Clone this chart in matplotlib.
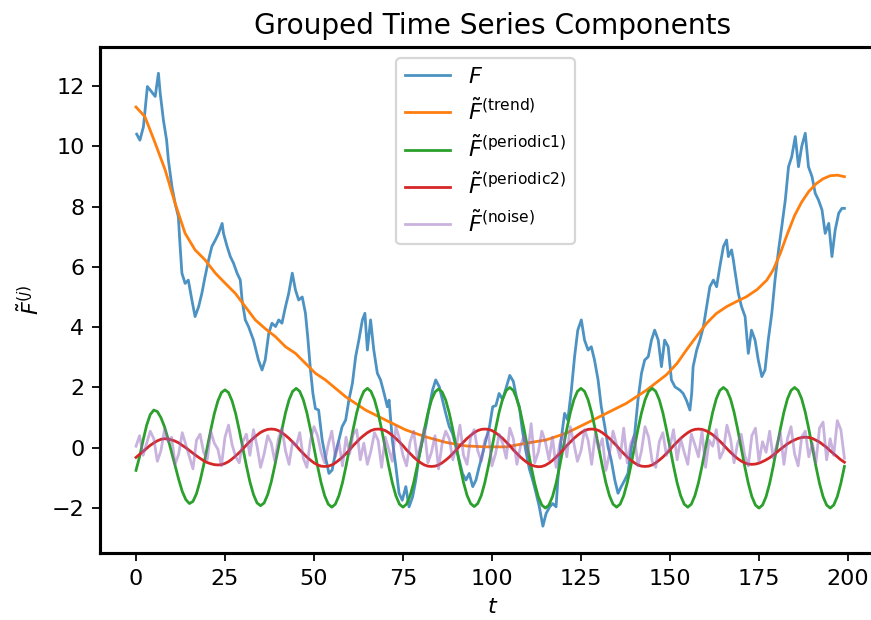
import numpy as np
import matplotlib
matplotlib.use("Agg")
import matplotlib.pyplot as plt

# ---------------- data ----------------
F_t = [0.2, 1.1, 2.1, 3.2, 4.4, 5.4, 6.3, 6.8, 7.7, 8.6, 9.1, 10.1, 11.0, 11.9, 12.4, 12.9,
       13.8, 14.7, 15.7, 16.6, 17.6, 18.5, 19.4, 20.4, 21.3, 22.3, 23.2, 24.2, 24.6, 25.6,
       26.5, 27.4, 28.4, 29.3, 29.8, 30.7, 31.6, 33.0, 34.4, 35.4, 36.3, 37.3, 38.2, 39.2,
       40.1, 41.0, 42.0, 42.9, 43.9, 44.8, 45.7, 46.7, 47.6, 48.3, 49.0, 49.7, 50.4, 51.3,
       52.3, 53.2, 54.2, 55.1, 56.0, 57.0, 57.9, 58.9, 59.8, 60.8, 61.7, 62.6, 63.6, 64.3,
       65.0, 65.9, 66.8, 67.8, 68.7, 69.7, 70.6, 71.1, 72.0, 73.0, 73.9, 74.8, 75.8, 76.7,
       77.7, 78.6, 79.5, 80.5, 81.4, 82.4, 83.3, 84.2, 85.2, 86.1, 87.0, 88.0, 88.9, 89.9,
       90.8, 91.7, 92.7, 93.6, 94.6, 95.5, 96.4, 97.4, 98.3, 99.3, 100.2, 101.1, 102.0, 103.0,
       104.0, 105.0, 106.0, 107.0, 107.7, 108.5, 109.5, 110.5, 111.5, 112.4, 113.3, 114.3,
       115.2, 116.2, 117.1, 118.0, 118.5, 119.4, 120.4, 121.3, 122.3, 123.2, 124.1, 125.1,
       126.0, 127.0, 127.9, 128.8, 129.8, 130.7, 131.7, 132.6, 133.5, 134.5, 135.4, 136.3,
       137.3, 138.2, 139.2, 140.1, 141.0, 142.0, 142.9, 143.9, 144.8, 145.7, 146.7, 147.6,
       148.5, 149.5, 150.4, 151.4, 152.8, 153.7, 154.6, 155.6, 156.1, 156.5, 157.5, 158.4,
       159.4, 160.3, 161.2, 162.2, 163.1, 164.0, 165.0, 165.9, 166.4, 167.3, 167.8, 168.2,
       169.2, 170.1, 171.1, 171.5, 172.0, 172.9, 173.9, 174.8, 175.8, 176.7, 177.6, 178.6,
       179.5, 180.5, 181.4, 182.4, 183.3, 184.2, 185.2, 186.1, 187.0, 188.0, 188.9, 189.9,
       190.8, 191.7, 192.7, 193.6, 194.6, 195.5, 196.4, 197.4, 198.3, 199.0]
F_v = [10.4, 10.2, 10.65, 11.98, 11.8, 11.65, 12.42, 11.76, 10.87, 10.2, 9.54, 8.66, 8.1, 7.66, 6.67, 5.79,
       5.45, 5.56, 4.9, 4.35, 4.68, 5.12, 5.67, 6.23, 6.67, 6.89, 7.11, 7.44, 7.1, 6.67,
       6.34, 6.12, 5.79, 5.56, 4.9, 4.24, 4.02, 3.57, 2.91, 2.58, 2.91, 3.8, 4.13, 4.02,
       4.24, 4.13, 4.68, 5.12, 5.79, 5.23, 4.9, 5.0, 4.46, 3.6, 2.6, 1.8, 1.3, 1.25,
       0.26, -0.3, -0.85, -0.74, -0.19, 0.26, 0.7, 0.92, 1.58, 2.14, 3.02, 3.57, 4.24, 4.46,
       3.24, 4.24, 3.24, 2.47, 2.25, 1.8, 1.36, 1.58, 0.26, -0.63, -1.51, -1.74, -1.29, -1.96,
       -1.63, -1.07, -0.3, 0.26, 0.7, 1.36, 1.91, 2.25, 2.02, 1.58, 1.14, 0.7, 0.48, 0.03,
       -0.41, -0.85, -1.07, -0.85, -1.29, -1.07, -0.63, -0.19, 0.26, 0.7, 1.36, 1.4, 1.8, 1.6,
       2.0, 2.4, 2.2, 1.6, 1.36, 0.6, -0.1, -0.7, -1.1, -1.51, -1.96, -2.6,
       -2.18, -1.96, -1.85, -1.96, -1.07, 0.26, 1.14, 0.92, 1.91, 3.02, 3.9, 4.24,
       3.57, 3.24, 3.35, 2.91, 2.25, 1.36, 0.7, 0.03, -0.41, -1.07, -1.51, -1.29,
       -1.07, -0.85, 0.03, 0.48, 1.58, 2.47, 2.91, 3.02, 3.57, 3.9, 3.57, 2.69,
       3.57, 3.35, 2.25, 2.02, 1.91, 1.8, 1.58, 1.25, 1.8, 2.69, 3.24, 3.57,
       4.02, 4.68, 5.34, 5.56, 5.34, 6.0, 6.67, 6.89, 6.34, 6.56, 6.23, 5.9,
       5.12, 4.68, 4.35, 3.8, 3.13, 3.9, 3.57, 2.91, 2.36, 2.58, 3.57, 4.46,
       5.56, 6.56, 7.33, 8.22, 9.32, 9.65, 10.32, 9.32, 9.99, 10.43, 9.32, 8.99,
       8.44, 8.22, 7.89, 7.11, 7.44, 6.34, 7.22, 7.78, 7.94, 7.94]

trend_t = [0, 2.5, 5.4, 8.2, 11.0, 13.8, 16.6, 19.4, 22.3, 25.1, 27.9, 30.7, 33.5, 36.3, 39.2,
           42.0, 44.8, 47.6, 50.4, 53.2, 58.9, 64.5, 70.1, 75.8, 81.4, 87.0, 92.7, 98.3, 104.0,
           109.6, 115.2, 120.8, 126.5, 132.1, 137.7, 143.4, 149.0, 152.0, 154.6, 157.5, 160.3,
           163.0, 165.9, 168.7, 171.5, 174.5, 177.2, 179.0, 181.0, 183.0, 185.0, 187.0, 189.0,
           191.0, 193.0, 195.0, 197.0, 199.0]
trend_v = [11.3, 10.98, 10.1, 9.21, 8.1, 7.11, 6.56, 6.23, 5.79, 5.45, 5.12, 4.68, 4.24, 3.95, 3.68,
           3.35, 3.13, 2.8, 2.47, 2.25, 1.69, 1.25, 0.92, 0.59, 0.36, 0.18, 0.06, 0.03, 0.03,
           0.15, 0.26, 0.48, 0.81, 1.14, 1.47, 1.91, 2.42, 2.8, 3.24, 3.7, 4.13,
           4.45, 4.68, 4.85, 5.01, 5.25, 5.56, 5.9, 6.45, 7.1, 7.7, 8.15, 8.5,
           8.75, 8.92, 9.02, 9.04, 8.99]

periodic1 = [
    -0.75, -0.30, 0.25, 0.75, 1.10, 1.25, 1.20, 1.00, 0.70, 0.30, -0.15, -0.60, -1.05, -1.45, -1.72, -1.85, -1.78, -1.52, -1.10, -0.58,
    0.00, 0.59, 1.13, 1.55, 1.83, 1.92, 1.83, 1.55, 1.13, 0.59, 0.00, -0.59, -1.13, -1.55, -1.83, -1.92, -1.83, -1.55, -1.13, -0.59,
    0.00, 0.61, 1.16, 1.59, 1.87, 1.97, 1.87, 1.59, 1.16, 0.61, 0.00, -0.61, -1.16, -1.59, -1.87, -1.97, -1.87, -1.59, -1.16, -0.61,
    0.00, 0.61, 1.16, 1.59, 1.87, 1.97, 1.87, 1.59, 1.16, 0.61, 0.00, -0.61, -1.16, -1.59, -1.87, -1.97, -1.87, -1.59, -1.16, -0.61,
    0.00, 0.60, 1.15, 1.58, 1.85, 1.95, 1.85, 1.58, 1.15, 0.60, 0.00, -0.60, -1.15, -1.58, -1.85, -1.95, -1.85, -1.58, -1.15, -0.60,
    0.00, 0.62, 1.18, 1.62, 1.90, 2.00, 1.90, 1.62, 1.18, 0.62, 0.00, -0.62, -1.18, -1.62, -1.90, -2.00, -1.90, -1.62, -1.18, -0.62,
    0.00, 0.61, 1.16, 1.59, 1.87, 1.97, 1.87, 1.59, 1.16, 0.61, 0.00, -0.61, -1.16, -1.59, -1.87, -1.97, -1.87, -1.59, -1.16, -0.61,
    0.00, 0.61, 1.16, 1.59, 1.87, 1.97, 1.87, 1.59, 1.16, 0.61, 0.00, -0.61, -1.16, -1.59, -1.87, -1.97, -1.87, -1.59, -1.16, -0.61,
    0.00, 0.62, 1.18, 1.62, 1.90, 2.00, 1.90, 1.62, 1.18, 0.62, 0.00, -0.62, -1.18, -1.62, -1.90, -2.00, -1.90, -1.62, -1.18, -0.62,
    0.00, 0.62, 1.18, 1.62, 1.90, 2.00, 1.90, 1.62, 1.18, 0.62, 0.00, -0.62, -1.18, -1.62, -1.90, -2.00, -1.90, -1.62, -1.18, -0.62,
]

periodic2 = [
    -0.32, -0.22, -0.12, -0.02, 0.08, 0.16, 0.23, 0.28,
    0.30, 0.29, 0.26, 0.22, 0.16, 0.08, 0.00, -0.09, -0.18, -0.27, -0.35, -0.43, -0.49, -0.53, -0.56, -0.57,
    -0.56, -0.52, -0.46, -0.37, -0.27, -0.16, -0.04, 0.09, 0.21, 0.32, 0.42, 0.51, 0.57, 0.61,
    0.62, 0.61, 0.57, 0.50, 0.41, 0.31, 0.19, 0.07, -0.07, -0.19, -0.31, -0.41, -0.50, -0.57, -0.61,
    -0.62, -0.61, -0.57, -0.50, -0.41, -0.31, -0.19, -0.07, 0.07, 0.19, 0.31, 0.41, 0.50, 0.57, 0.61,
    0.62, 0.61, 0.57, 0.50, 0.41, 0.31, 0.19, 0.07, -0.07, -0.19, -0.31, -0.41, -0.50, -0.57, -0.61,
    -0.62, -0.61, -0.57, -0.50, -0.41, -0.31, -0.19, -0.07, 0.07, 0.19, 0.31, 0.41, 0.50, 0.57, 0.61,
    0.62, 0.61, 0.57, 0.50, 0.41, 0.31, 0.19, 0.07, -0.07, -0.19, -0.31, -0.41, -0.50, -0.57, -0.61,
    -0.63, -0.62, -0.58, -0.51, -0.42, -0.31, -0.19, -0.07, 0.07, 0.19, 0.31, 0.41, 0.50, 0.57, 0.61,
    0.62, 0.61, 0.57, 0.50, 0.41, 0.31, 0.19, 0.07, -0.07, -0.19, -0.31, -0.41, -0.50, -0.57, -0.61,
    -0.62, -0.61, -0.57, -0.50, -0.41, -0.31, -0.19, -0.07, 0.07, 0.19, 0.31, 0.41, 0.50, 0.57, 0.61,
    0.62, 0.61, 0.57, 0.51, 0.43, 0.33, 0.22, 0.10, -0.03, -0.15, -0.26, -0.36, -0.44, -0.50, -0.54, -0.55,
    -0.54, -0.51, -0.46, -0.40, -0.33, -0.24, -0.15, -0.05, 0.04, 0.13, 0.20, 0.26, 0.31, 0.34, 0.35,
    0.34, 0.31, 0.25, 0.19, 0.10, 0.01, -0.10, -0.20, -0.30, -0.40, -0.48,
]

noise = [
    0.05, 0.40, -0.25, 0.15, 0.55, 0.30, -0.45, -0.10, 0.60, 0.20, 0.35, -0.55, -0.20, 0.50, 0.10, -0.30, -0.70, 0.25, 0.45, -0.15,
    -0.40, 0.55, 0.15, -0.05, -0.60, 0.35, 0.75, 0.10, -0.30, -0.50, 0.20, 0.45, -0.25, 0.60, 0.05, -0.65, -0.20, 0.40, 0.15, -0.45,
    0.30, 0.65, -0.10, -0.55, 0.20, 0.05, 0.50, -0.35, -0.65, 0.25, 0.70, 0.40, -0.15, -0.50, 0.10, 0.55, -0.30, 0.20, -0.60, 0.35,
    -0.20, 0.45, 0.60, -0.40, 0.15, -0.55, -0.10, 0.50, 0.25, -0.65, 0.35, -0.05, -0.45, 0.70, 0.30, -0.25, -0.60, 0.20, 0.55, -0.35,
    0.10, 0.65, -0.50, -0.15, 0.40, -0.70, 0.15, 0.55, 0.30, -0.40, 0.05, 0.75, -0.25, -0.55, 0.35, 0.60, -0.10, -0.45, 0.25, 0.50,
    -0.60, -0.20, 0.45, 0.15, -0.35, 0.65, 0.30, -0.55, 0.05, 0.40, -0.25, 0.80, -0.50, -0.15, 0.55, 0.20, -0.40, 0.35, -0.65, 0.10,
    0.50, -0.30, 0.70, 0.15, -0.45, -0.10, 0.60, 0.25, -0.55, 0.45, -0.05, 0.30, -0.75, -0.20, 0.55, 0.10, -0.35, 0.65, -0.50, 0.15,
    0.40, -0.60, -0.10, 0.70, 0.35, -0.45, -0.65, 0.20, 0.50, -0.25, 0.05, 0.60, -0.40, 0.30, -0.15, -0.55, 0.45, 0.10, -0.30, 0.55,
    -0.65, 0.25, 0.05, 0.60, -0.35, -0.10, 0.75, 0.30, -0.50, 0.15, 0.45, -0.25, -0.60, 0.40, 0.65, -0.45, 0.20, -0.15, 0.55, -0.35,
    0.10, 0.50, -0.55, 0.30, 0.70, -0.20, -0.60, 0.35, 0.55, -0.30, 0.15, -0.50, 0.65, 0.85, -0.40, 0.30, -0.25, 0.90, 0.60, -0.35,
]

labels = [r"$F$",
          r"$\tilde{F}^{(\mathrm{trend})}$",
          r"$\tilde{F}^{(\mathrm{periodic1})}$",
          r"$\tilde{F}^{(\mathrm{periodic2})}$",
          r"$\tilde{F}^{(\mathrm{noise})}$"]

# ---------------- figure ----------------
fig = plt.figure(figsize=(871 / 160, 620 / 160), dpi=160)
ax = fig.add_axes([100 / 871, 1 - 553 / 620, 785 / 871, (553 - 47) / 620])

lw = 1.25
ax.plot(F_t, F_v, color="C0", alpha=0.8, lw=lw, label=labels[0])
ax.plot(trend_t, trend_v, color="C1", lw=lw, label=labels[1])
ax.plot(np.arange(len(periodic1)), periodic1, color="C2", lw=lw, label=labels[2])
ax.plot(np.arange(len(periodic2)), periodic2, color="C3", lw=lw, label=labels[3])
ax.plot(np.arange(len(noise)), noise, color="C4", alpha=0.5, lw=lw, label=labels[4])

ax.set_xlim(-10.11, 210.4)
ax.set_ylim(-3.49, 13.29)
ax.set_xticks([0, 25, 50, 75, 100, 125, 150, 175, 200])
ax.set_yticks([-2, 0, 2, 4, 6, 8, 10, 12])
for s in ax.spines.values():
    s.set_linewidth(1.4)
ax.spines["right"].set_visible(False)

ax.set_title("Grouped Time Series Components", fontsize=12.6)
ax.set_xlabel("$t$")
ax.set_ylabel(r"$\tilde{F}^{(j)}$")
ax.legend(loc="upper center", bbox_to_anchor=(0.4911, 1.0))

fig.savefig("out.png", dpi=160)
